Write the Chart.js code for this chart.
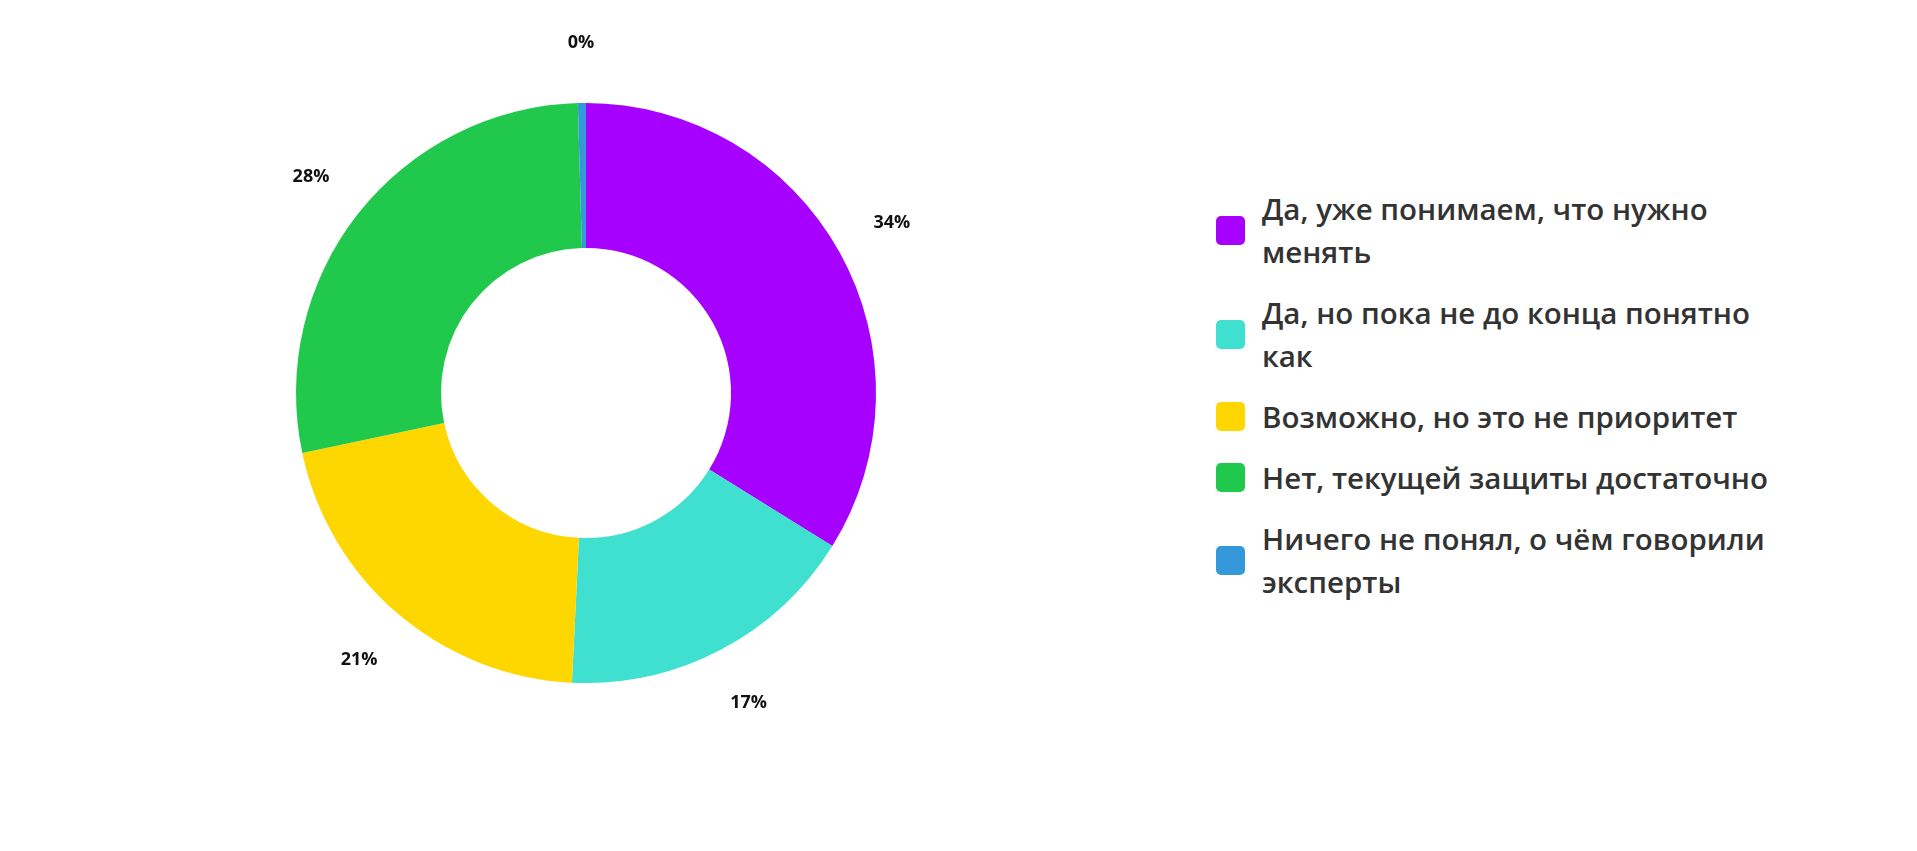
<!DOCTYPE html>
<html lang="ru">
<head>
<meta charset="utf-8">
<title>Опрос</title>
<script src="https://cdn.jsdelivr.net/npm/chart.js@4.4.1/dist/chart.umd.min.js"></script>
<style>
    html, body { margin: 0; padding: 0; background: #fff; }
    body { width: 1917px; height: 851px; position: relative; overflow: hidden; font-family: 'Open Sans', sans-serif; }
    .chart-box { position: absolute; left: 0; top: 0; width: 1172px; height: 851px; }
    .legend { position: absolute; left: 1216px; top: 187px; width: 600px; margin: 0; padding: 0; list-style: none; }
    .legend li { display: flex; align-items: center; margin-bottom: 18px; }
    .legend .box { width: 29px; height: 29px; border-radius: 5px; flex-shrink: 0; margin-right: 17px; }
    .legend .text { max-width: 530px; font-size: 29.5px; font-weight: 600; line-height: 43px; color: #333; }
</style>
</head>
<body>
<div class="chart-box"><canvas id="pollChart"></canvas></div>
<ul class="legend" id="pollLegend"></ul>

<script>
// --- Data ---
const labels = [
    'Да, уже понимаем, что нужно менять',
    'Да, но пока не до конца понятно как',
    'Возможно, но это не приоритет',
    'Нет, текущей защиты достаточно',
    'Ничего не понял, о чём говорили эксперты'
];
const values = [34, 17, 21, 28, 0.45];
const colors = ['#A600FF', '#40E0D0', '#FFD700', '#20C94B', '#3498DB'];

// подписи процентов снаружи кольца
const outsideLabels = {
    id: 'outsideLabels',
    afterDatasetsDraw(chart) {
        const ctx = chart.ctx;
        const meta = chart.getDatasetMeta(0);
        ctx.save();
        ctx.font = "bold 18px 'Open Sans', sans-serif";
        ctx.fillStyle = '#111';
        ctx.textAlign = 'center';
        ctx.textBaseline = 'middle';
        meta.data.forEach((arc, i) => {
            const p = arc.getProps(['x', 'y', 'startAngle', 'endAngle', 'outerRadius'], true);
            const mid = (p.startAngle + p.endAngle) / 2;
            const r = p.outerRadius + 60;
            const v = chart.data.datasets[0].data[i];
            ctx.fillText(Math.round(v) + '%', p.x + Math.cos(mid) * r, p.y + Math.sin(mid) * r);
        });
        ctx.restore();
    }
};

function renderLegend(chart) {
    const list = document.getElementById('pollLegend');
    const items = chart.options.plugins.legend.labels.generateLabels(chart);
    list.innerHTML = items.map(item => `
        <li>
            <span class="box" style="background:${item.fillStyle}"></span>
            <span class="text">${item.text}</span>
        </li>
    `).join('');
}

const chart = new Chart(document.getElementById('pollChart'), {
    type: 'doughnut',
    data: {
        labels: labels,
        datasets: [{
            data: values,
            backgroundColor: colors,
            borderWidth: 0
        }]
    },
    options: {
        responsive: true,
        maintainAspectRatio: false,
        animation: false,
        cutout: '50%',
        layout: { padding: { top: 103, bottom: 168, left: 0, right: 0 } },
        plugins: {
            legend: { display: false },
            tooltip: { enabled: false }
        }
    },
    plugins: [outsideLabels]
});

renderLegend(chart);
</script>
</body>
</html>
